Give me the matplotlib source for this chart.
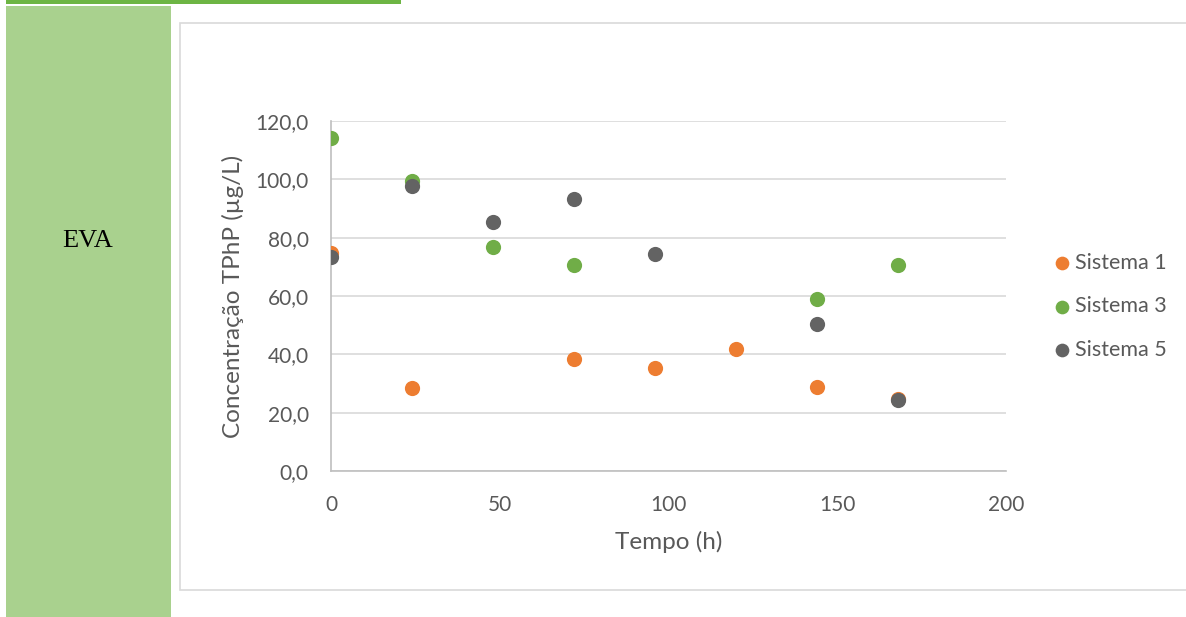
import matplotlib.pyplot as plt
from matplotlib.patches import Rectangle

# dados (Tempo em h, concentração em ug/L)
t_s1 = [0, 24, 72, 96, 120, 144, 168]
c_s1 = [74.7, 28.5, 38.4, 35.3, 41.8, 28.8, 24.7]

t_s3 = [0, 24, 48, 72, 144, 168]
c_s3 = [114.2, 99.4, 76.8, 70.6, 59.0, 70.6]

t_s5 = [0, 24, 48, 72, 96, 144, 168]
c_s5 = [73.4, 97.7, 85.4, 93.2, 74.4, 50.4, 24.3]

series = ["Sistema 1", "Sistema 3", "Sistema 5"]
colors = ["#ED7D31", "#70AD47", "#636363"]
yticks = [0, 20, 40, 60, 80, 100, 120]
xticks = [0, 50, 100, 150, 200]

plt.rcParams['font.family'] = ['Lato', 'DejaVu Sans']

W, H = 1186, 617
fig = plt.figure(figsize=(W/100, H/100), dpi=100)

# faixa verde lateral, linha verde no topo e moldura do gráfico (cortada à direita)
fig.patches.append(Rectangle((6/W, 0), 165/W, 611/H, transform=fig.transFigure,
                             facecolor="#A9D18E", edgecolor="none", zorder=-2))
fig.patches.append(Rectangle((6/W, 1 - 3.5/H), 395/W, 3.5/H, transform=fig.transFigure,
                             facecolor="#6DB544", edgecolor="none", zorder=-2))
fig.patches.append(Rectangle((180/W, 1 - 590/H), 1020/W, 567/H, transform=fig.transFigure,
                             facecolor="white", edgecolor="#D9D9D9", lw=1.2, zorder=-2))
fig.text(88/W, 1 - 241/H, "EVA", family="Liberation Serif", fontsize=19,
         ha="center", va="center", color="black")

ax = fig.add_axes([331/W, 1 - 471/H, 675/W, 350/H])
ax.set_facecolor("none")
ax.scatter(t_s1, c_s1, s=120, color=colors[0], label=series[0], zorder=3, linewidths=0)
ax.scatter(t_s3, c_s3, s=120, color=colors[1], label=series[1], zorder=3, linewidths=0)
ax.scatter(t_s5, c_s5, s=120, color=colors[2], label=series[2], zorder=3, linewidths=0)

ax.set_xlim(0, 200)
ax.set_ylim(0, 120)
ax.set_xticks(xticks)
ax.set_yticks(yticks)
ax.set_yticklabels([f"{v:.1f}".replace(".", ",") for v in yticks])
ax.tick_params(length=0, labelsize=15, labelcolor="#595959")
ax.tick_params(axis="y", pad=16)
ax.tick_params(axis="x", pad=17)
ax.grid(axis="y", color="#D9D9D9", lw=1.2)
ax.set_axisbelow(True)
for s in ["top", "right"]:
    ax.spines[s].set_visible(False)
ax.spines["left"].set_color("#BFBFBF")
ax.spines["bottom"].set_color("#BFBFBF")
ax.spines["left"].set_linewidth(1.2)
ax.spines["bottom"].set_linewidth(1.2)

ax.set_xlabel("Tempo (h)", fontsize=17.5, color="#595959", labelpad=12)
ax.set_ylabel("Concentração TPhP (µg/L)", fontsize=17.5, color="#595959", labelpad=8)

ax.legend(loc="upper left", bbox_to_anchor=(1.022, 0.679), frameon=False,
          fontsize=15.5, labelcolor="#595959", handletextpad=-0.37, labelspacing=1.1,
          markerscale=0.9)

fig.savefig("out.png", dpi=100)
